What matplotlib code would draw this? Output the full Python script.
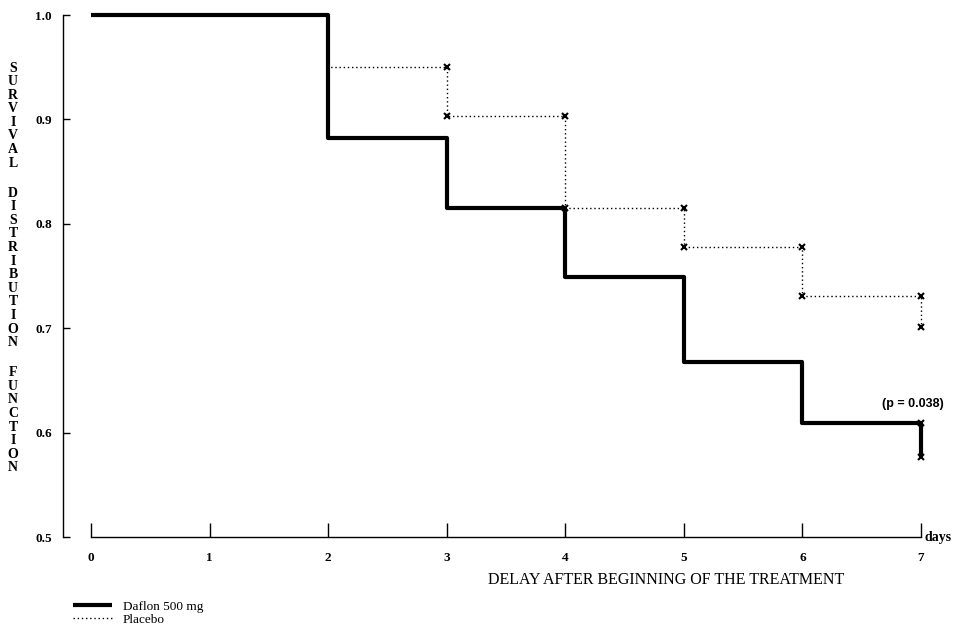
import matplotlib
matplotlib.use("Agg")
import matplotlib.pyplot as plt

# Survival curves
days = [0, 2, 3, 4, 5, 6, 7]
daflon_levels = [1.0, 0.882, 0.815, 0.749, 0.668, 0.609]
daflon_end = 0.577
placebo_levels = [1.0, 0.950, 0.903, 0.815, 0.778, 0.731]
placebo_end = 0.701

y_ticks = [0.5, 0.6, 0.7, 0.8, 0.9, 1.0]
x_ticks = [0, 1, 2, 3, 4, 5, 6, 7]
ylabel_words = ["SURVIVAL", "DISTRIBUTION", "FUNCTION"]

SERIF = ["Liberation Serif", "DejaVu Serif"]

W, H = 959, 635
fig = plt.figure(figsize=(W / 100, H / 100), dpi=100)
ax = fig.add_axes([63 / W, 1 - 537 / H, (921 - 63) / W, (537 - 15) / H])


def step_xy(levels, end):
    xs = list(days) + [days[-1]]
    ys = list(levels) + [levels[-1], end]
    return xs, ys


px, py = step_xy(placebo_levels, placebo_end)
ax.plot(px, py, drawstyle="steps-post", color="black", lw=1.0,
        linestyle=(0, (1, 2)), clip_on=False, label="Placebo")

dx, dy = step_xy(daflon_levels, daflon_end)
ax.plot(dx, dy, drawstyle="steps-post", color="black", lw=3.0,
        solid_capstyle="butt", clip_on=False, label="Daflon 500 mg")

# x marks at the ends of each placebo drop
mx, my = [], []
for i in range(2, len(days)):
    before = placebo_levels[i - 1]
    after = placebo_levels[i] if i < len(placebo_levels) else placebo_end
    mx += [days[i], days[i]]
    my += [before, after]
ax.plot(mx, my, "x", color="black", ms=4, mew=1.5, clip_on=False)
ax.plot([days[-1], days[-1]], [daflon_levels[-1], daflon_end], "x",
        color="black", ms=4, mew=1.5, clip_on=False)

ax.set_xlim(-0.236, 7)
ax.set_ylim(0.5, 1.0)

for s in ["top", "right"]:
    ax.spines[s].set_visible(False)
ax.spines["bottom"].set_bounds(0, 7)
ax.spines["left"].set_linewidth(1.0)
ax.spines["bottom"].set_linewidth(1.0)

ax.set_yticks(y_ticks)
ax.set_yticklabels([f"{v:.1f}" for v in y_ticks])
ax.set_xticks(x_ticks)
ax.set_xticklabels([str(v) for v in x_ticks])
ax.tick_params(axis="y", direction="in", length=5, width=1, pad=8)
ax.tick_params(axis="x", direction="in", length=10, width=1, pad=11)
for lab in ax.get_yticklabels() + ax.get_xticklabels():
    lab.set_family(SERIF)
    lab.set_fontweight("bold")
    lab.set_fontsize(9.5)

ax.text(1.004, 0.0, "days", transform=ax.transAxes, ha="left", va="center",
        family=SERIF, fontweight="bold", fontsize=10)

ax.text(6.93, 0.627, "(p = 0.038)", ha="center", va="center",
        family=["Liberation Sans", "DejaVu Sans"], fontweight="bold",
        fontsize=9)

fig.text(666 / W, 1 - 580 / H, "DELAY AFTER BEGINNING OF THE TREATMENT",
         ha="center", va="center", family=SERIF, fontsize=11.5)

# stacked vertical axis title
y = 68
row = 13.6
for w in ylabel_words:
    for ch in w:
        fig.text(13 / W, 1 - y / H, ch, ha="center", va="center",
                 family=SERIF, fontweight="bold", fontsize=10)
        y += row
    y += row * 1.2

handles, labels = ax.get_legend_handles_labels()
leg = fig.legend(handles[::-1], labels[::-1], loc="upper left",
                 bbox_to_anchor=(66 / W, 1 - 594 / H), frameon=False,
                 handlelength=3.0, handletextpad=0.8, labelspacing=0.05,
                 borderpad=0, prop={"family": SERIF, "size": 9.5})

fig.savefig("out.png", dpi=100)
